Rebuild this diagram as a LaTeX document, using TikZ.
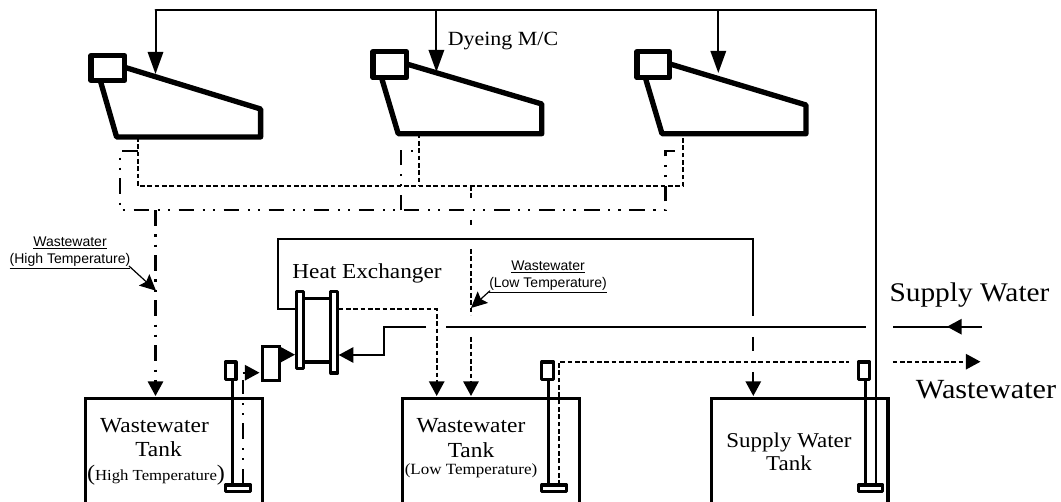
\documentclass[tikz,border=0pt]{standalone}
\usepackage{fontspec}
\setmainfont[FakeStretch=1.09]{Liberation Serif}
\newfontfamily\arialf{Liberation Sans}
\usetikzlibrary{arrows.meta}
\newcommand{\fs}[1]{\fontsize{#1}{#1}\selectfont}
\tikzset{
  x=0.75pt,y=-0.75pt,
  thick line/.style={line width=4pt,line join=round,line cap=round},
  pipe/.style={line width=1.5pt},
  bighead/.style={-{Triangle[length=16.5pt,width=11.5pt]}},
  smallhead/.style={-{Triangle[length=11pt,width=11.5pt]}},
  notehead/.style={-{Stealth[length=12pt,width=11.5pt,inset=2pt]}},
  drain/.style={line width=1.5pt,dash pattern=on 3.5pt off 2pt},
  dashdot/.style={line width=1.6pt,dash pattern=on 11.6pt off 6.5pt on 1.6pt off 6pt on 1.6pt off 6.5pt},
  tank/.style={draw,line width=2.4pt,minimum height=82.5pt,anchor=north west,inner sep=0pt},
  part/.style={line width=2.4pt,fill=white,line join=round},
  lbl/.style={inner sep=0pt,align=center},
  sm/.style={inner sep=0pt,font=\arialf\fs{10.5pt}},
}
\begin{document}
\begin{tikzpicture}
\useasboundingbox (0,0) rectangle (1061,502);
\fill[white] (0,0) rectangle (1061,502);
% coordinates
\coordinate (topL) at (155.5,10);
\coordinate (topM) at (436.4,10);
\coordinate (topR) at (718.3,10);
\coordinate (topE) at (875.7,10);
\coordinate (m1t) at (155.5,74);
\coordinate (m2t) at (436.4,72);
\coordinate (m3t) at (718.3,73);
% supply header
\draw[pipe,line cap=round,line join=miter] (topL) -- (topE) -- (875.7,485) coordinate (p3e);
\draw[pipe,bighead] (topL) -- (m1t);
\draw[pipe,bighead] (topM) -- (m2t);
\draw[pipe,bighead] (topR) -- (m3t);
% machines
\foreach \n/\bx/\by/\bX/\bY/\ax/\ay/\bbx/\bby/\ccy/\dx/\dy/\ex/\ey in {
 1/91/55.7/124.7/80.3/126/67.7/260.6/109/137/116.6/137/100.7/82,
 2/373/51.7/406.4/77.7/407.7/64.3/541.8/104/133.7/398.2/133.7/382/79.3,
 3/637/51.7/669.5/77.7/671/64.3/806/105/133.7/662/133.7/645.8/79.3}{
  \draw[thick line] (\ax,\ay) -- (\bbx,\bby) -- (\bbx,\ccy) -- (\dx,\dy) -- (\ex,\ey);
  \draw[thick line,fill=white] (\bx,\by) rectangle (\bX,\bY);
}
% drains
\coordinate (d1) at (137.6,137);
\coordinate (d2) at (419.2,133.7);
\coordinate (d3) at (683.4,133.7);
\draw[drain] (d1) |- (d3 |- 0,186) -- (d3);
\draw[drain] (d2) -- (d2 |- 0,186);
\draw[dashdot] (137.6,150.7) -- (120.3,150.7) -- (120.3,210.3) -- (665.5,210.3) -- (665.5,150.7) -- (683.4,150.7);
\draw[dashdot] (401.3,210.3) -- (401.3,150.7) -- (419.2,150.7);
% tanks
\node[tank,minimum width=132.5pt] (t1) at (84,396.7) {};
\node[tank,minimum width=132.5pt] (t2) at (401,396.7) {};
\node[tank,minimum width=132.3pt] (t3) at (710,396.7) {};
% down lines
\coordinate (hi0) at (155.5,210.3);
\coordinate (hiT) at (155.5,396);
\draw[dashdot,smallhead] (hi0) -- (hiT);
\coordinate (lo0) at (471,186);
\coordinate (loT) at (471,396);
\draw[drain] (lo0) -- (471,198);
\draw[drain] (471,220) -- (471,227);
\draw[drain] (471,249) -- (471,315);
\draw[drain,smallhead] (471,337) -- (loT);
% supply to tank 3
\coordinate (hxA) at (295,309.3);
\draw[pipe] (hxA) -- (278,309.3) -- (278,239) -- (753.3,239) -- (753.3,316);
\draw[pipe] (753.3,337) -- (753.3,351);
\draw[pipe,smallhead] (753.3,372) -- (753.3,396);
% main supply
\draw[pipe] (446,326.7) -- (865.7,326.7);
\draw[pipe,smallhead] (426,326.7) -- (384,326.7) -- (384,355) -- (338.7,355);
% exchanger drain
\draw[drain,smallhead] (338.7,309.3) -- (436.7,309.3) -- (436.7,396);
% pump dashed
\draw[drain,line width=1.3pt] (559,485) -- (559,361.7) -- (849,361.7);
% pump 1 dashdot
\draw[dashdot] (243.3,484) -- (243.3,380);
\draw[drain,smallhead] (242.7,372.7) -- (259.5,372.7);
% pumps
\foreach \l/\r/\rod/\R in {225.5/236/232.7/250.5, 541.8/553.5/548.3/566.5, 858.5/869.5/865.7/882.8}{
  \draw[line width=2.4pt] (\rod,380) -- (\rod,485);
  \draw[part] (\l,362) rectangle (\r,379.5);
  \draw[part] (\l,485) rectangle (\R,491.5);
}
% block
\node[draw,line width=2.4pt,fill=white,anchor=north west,minimum width=12.8pt,minimum height=25.5pt,inner sep=0pt] (blk) at (261,345) {};
\draw[pipe,smallhead] (blk.east |- 0,354.7) -- (295,354.7);
% heat exchanger
\draw[line width=2.4pt] (304,298.3) -- (330,298.3) (304,362) -- (330,362);
\draw[part] (296.2,291.7) rectangle (303.3,368.5);
\draw[part] (330.7,291.7) rectangle (337.8,373);
% legend
\coordinate (ls0) at (982,326.7);
\coordinate (ls1) at (892.8,326.7);
\draw[pipe] (ls0) -- (ls1);
\draw[pipe,smallhead] (ls0) -- (947,326.7);
\coordinate (lw0) at (892.8,361.7);
\coordinate (lw1) at (980.5,361.7);
\draw[drain,smallhead] (lw0) -- (lw1);
% annotation arrows
\coordinate (an1) at (129,266);
\coordinate (an1t) at (156,290.7);
\draw[line width=0.9pt,notehead] (an1) -- (an1t);
\coordinate (an2) at (490,290.7);
\coordinate (an2t) at (471,308);
\draw[line width=0.9pt,notehead] (an2) -- (an2t);
% text
\node[lbl,font=\fs{15.1pt}] (dy) at (503,41) {Dyeing M/C};
\node[lbl,font=\fs{16pt}] (hx) at (367,273) {Heat Exchanger};
\node[lbl,font=\fs{20.2pt}] (ls) at (969.5,295) {Supply Water};
\node[lbl,font=\fs{20.8pt}] (lw) at (986,390) {Wastewater};
\node[lbl,font=\fs{16.1pt}] (a1) at (154.5,425.5) {Wastewater};
\node[lbl,font=\fs{16.1pt}] (a2) at (158.5,449.5) {Tank};
\node[lbl,font=\fs{11.5pt}] (a3) at (156,475.5) {{\fs{16.6pt}(}High Temperature{\fs{16.6pt})}};
\node[lbl,font=\fs{16.1pt}] (b1) at (471,426) {Wastewater};
\node[lbl,font=\fs{16.1pt}] (b2) at (471,450.5) {Tank};
\node[lbl,font=\fs{11.7pt}] (b3) at (471,471) {(Low Temperature)};
\node[lbl,font=\fs{15.8pt}] (c1) at (789,442) {Supply Water};
\node[lbl,font=\fs{15.8pt}] (c2) at (789,463) {Tank};
\node[sm] (w1) at (70,243) {\underline{Wastewater}};
\node[sm] (w2) at (70,261) {\underline{(High Temperature)}};
\node[sm] (w3) at (548,267) {\underline{Wastewater}};
\node[sm] (w4) at (548,285) {\underline{(Low Temperature)}};
\end{tikzpicture}
\end{document}
